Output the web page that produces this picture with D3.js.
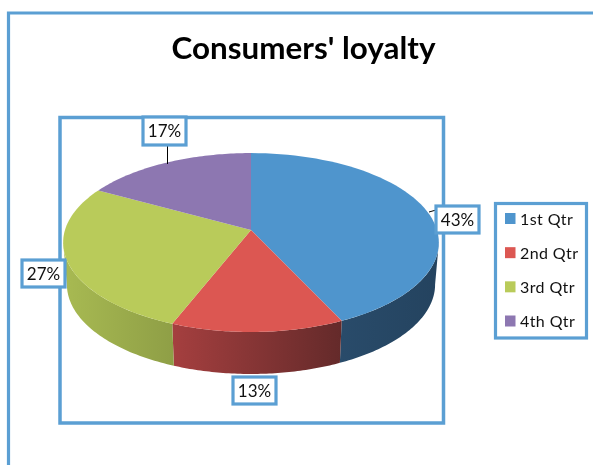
<!DOCTYPE html>
<html><head><meta charset="utf-8">
<script src="https://cdn.jsdelivr.net/npm/d3@7/dist/d3.min.js"></script>
<style>html,body{margin:0;padding:0;background:#fff}svg{display:block}</style>
</head><body><svg id="c" width="593" height="465"></svg>
<script>
const categories = ["1st Qtr","2nd Qtr","3rd Qtr","4th Qtr"];
const values = [43,13,27,17];
const labels = ["43%","13%","27%","17%"];
const topColors = ["#4f95cd","#dc5752","#b9cb5a","#8d77b1"];
const sideLeft = ["#294b6a","#a53f3f","#a8ba52","#7a6698"];
const sideRight = ["#24435f","#642a2a","#8f9f46","#5f4f78"];

const svg = d3.select("#c");
const BORDER = "#5b9fd3";
const FONT = "Lato, 'Open Sans', sans-serif";
const defs = svg.append("defs");
const root = svg.append("g").style("filter","blur(0.4px)");

// Perspective projection of the pie disc
const cx = 251, apexY = 230, A = 186, B = 87.7, k = 0.14, depth = 42, shrink = 0.98;
const proj = (t) => { const u=Math.sin(t), v=-Math.cos(t), w=1-k*v; return [cx+A*u/w, apexY+B*v/w]; };
const projLow = (t) => { const p=proj(t); return [cx+(p[0]-cx)*shrink, p[1]+depth]; };
const line = d3.line();
const arcs = d3.pie().sort(null).value(d=>d)(values);
const sample = (a,b) => d3.range(0,61).map(i=>a+(b-a)*i/60);

// frames
root.append("path").attr("d","M8.5,465V13H593").attr("fill","none").attr("stroke",BORDER).attr("stroke-width",3.2);
root.append("rect").attr("x",60).attr("y",117.5).attr("width",383.5).attr("height",305.5)
  .attr("fill","#fff").attr("stroke",BORDER).attr("stroke-width",3.5);

// title
root.append("text").attr("x",303.5).attr("y",59).attr("text-anchor","middle")
  .attr("font-family",FONT).attr("font-weight",700).attr("font-size",31)
  .attr("textLength",264).attr("lengthAdjust","spacingAndGlyphs").attr("fill","#000").text("Consumers' loyalty");

// sides (front-facing part of the rim only)
const front0 = Math.PI-Math.acos(k), front1 = Math.PI+Math.acos(k);
arcs.forEach((d,i)=>{
  const a=Math.max(d.startAngle,front0), b=Math.min(d.endAngle,front1);
  if(b<=a) return;
  const id="side"+i;
  const up=sample(a,b).map(proj), low=sample(a,b).map(projLow).reverse();
  const gx=d3.extent(up,p=>p[0]);
  const g=defs.append("linearGradient").attr("id",id).attr("gradientUnits","userSpaceOnUse")
    .attr("x1",gx[0]).attr("x2",gx[1]).attr("y1",0).attr("y2",0);
  g.append("stop").attr("offset",0).attr("stop-color",sideLeft[i]);
  g.append("stop").attr("offset",1).attr("stop-color",sideRight[i]);
  root.append("path").attr("d",line(up.concat(low))+"Z").attr("fill",`url(#${id})`);
});

// top faces
arcs.forEach((d,i)=>{
  const pts=[[cx,apexY]].concat(sample(d.startAngle,d.endAngle).map(proj));
  root.append("path").attr("d",line(pts)+"Z").attr("fill",topColors[i]);
});

// leader lines
root.append("path").attr("d","M429,212L436,210").attr("stroke","#000").attr("stroke-width",1).attr("fill","none");
root.append("path").attr("d","M167.5,146V164").attr("stroke","#000").attr("stroke-width",1).attr("fill","none");

// data labels
const boxes=[[436,206,43,27],[233,377,43,27],[22,260,43,27],[143,117,43,28]];
labels.forEach((t,i)=>{
  const b=boxes[i];
  root.append("rect").attr("x",b[0]).attr("y",b[1]).attr("width",b[2]).attr("height",b[3])
    .attr("fill","#fff").attr("stroke",BORDER).attr("stroke-width",3.2);
  root.append("text").attr("x",b[0]+b[2]/2).attr("y",b[1]+b[3]/2+6).attr("text-anchor","middle")
    .attr("font-family",FONT).attr("font-size",17).attr("fill","#111").text(t);
});

// legend
root.append("rect").attr("x",495.5).attr("y",203.5).attr("width",91).attr("height",134.5)
  .attr("fill","#fff").attr("stroke",BORDER).attr("stroke-width",3.2);
const ly=d3.scalePoint().domain(categories).range([218.5,321]);
categories.forEach((c,i)=>{
  root.append("rect").attr("x",505).attr("y",ly(c)-5.5).attr("width",10.5).attr("height",11).attr("fill",topColors[i]);
  root.append("text").attr("x",520).attr("y",ly(c)+6).attr("font-family",FONT)
    .attr("font-size",16).attr("letter-spacing",0.4).attr("fill","#111").text(c);
});
</script></body></html>
